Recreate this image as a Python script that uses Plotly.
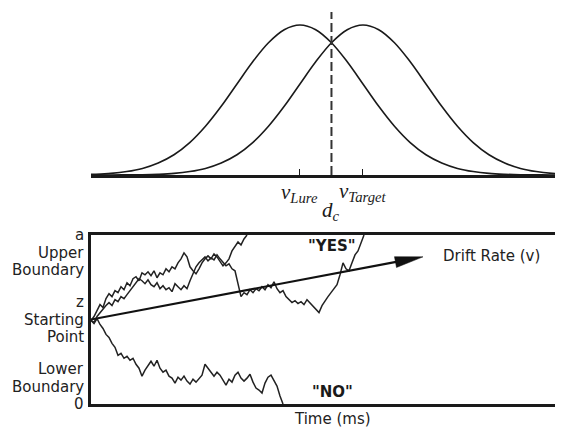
import numpy as np
import plotly.graph_objects as go

# ---------------- data ----------------
# top panel: signal-detection distributions (units of the common SD)
lure_mean = 0.0
target_mean = 1.0
dist_sd = 1.0
criterion = 0.5
# relative density heights, at offsets (in SD) from the mean
profile_offsets = [-4.5, -4.25, -4.0, -3.75, -3.5, -3.25, -3.0, -2.75, -2.5, -2.25, -2.0,
                   -1.75, -1.5, -1.25, -1.0, -0.75, -0.5, -0.25, 0.0, 0.25, 0.5, 0.75,
                   1.0, 1.25, 1.5, 1.75, 2.0, 2.25, 2.5, 2.75, 3.0, 3.25, 3.5, 3.75,
                   4.0, 4.25, 4.5]
profile_heights = [0.000, 0.000, 0.000, 0.001, 0.002, 0.005, 0.011, 0.023, 0.044, 0.080, 0.135,
                   0.216, 0.325, 0.458, 0.607, 0.755, 0.882, 0.969, 1.000, 0.969, 0.882, 0.755,
                   0.607, 0.458, 0.325, 0.216, 0.135, 0.080, 0.044, 0.023, 0.011, 0.005, 0.002, 0.001,
                   0.000, 0.000, 0.000]
dist_labels = ["<i>v</i><sub><i>Lure</i></sub>", "<i>v</i><sub><i>Target</i></sub>"]
criterion_label = "<i>d</i><sub><i>c</i></sub>"

# bottom panel: diffusion process
boundary_a = 1.7
start_z = 0.85
sample_interval = 3  # ms between samples
path_upper_fast = [0.84, 0.88, 0.94, 1.00, 0.97, 1.06, 1.11, 1.08, 1.14, 1.12, 1.18, 1.15, 1.22,
                   1.19, 1.26, 1.28, 1.24, 1.32, 1.30, 1.33, 1.29, 1.34, 1.27, 1.32, 1.30, 1.36,
                   1.33, 1.38, 1.36, 1.42, 1.46, 1.52, 1.48, 1.38, 1.34, 1.31, 1.36, 1.42, 1.46,
                   1.49, 1.46, 1.51, 1.48, 1.44, 1.39, 1.42, 1.46, 1.54, 1.58, 1.63, 1.60, 1.66,
                   1.70]
path_upper_slow = [0.84, 0.82, 0.88, 0.92, 0.95, 0.99, 1.02, 0.99, 1.05, 1.03, 1.08, 1.06, 1.10,
                   1.14, 1.19, 1.23, 1.26, 1.24, 1.21, 1.25, 1.20, 1.18, 1.22, 1.16, 1.19, 1.15,
                   1.17, 1.13, 1.21, 1.18, 1.15, 1.19, 1.16, 1.24, 1.32, 1.38, 1.42, 1.45, 1.48,
                   1.44, 1.47, 1.45, 1.50, 1.46, 1.42, 1.39, 1.41, 1.36, 1.34, 1.22, 1.08, 1.12,
                   1.10, 1.15, 1.12, 1.16, 1.14, 1.18, 1.15, 1.20, 1.17, 1.23, 1.16, 1.12, 1.14,
                   1.08, 1.05, 1.02, 1.04, 1.01, 1.03, 1.00, 1.05, 1.02, 0.98, 0.95, 0.92, 0.99,
                   1.04, 1.08, 1.12, 1.16, 1.20, 1.30, 1.42, 1.36, 1.34, 1.42, 1.50, 1.54, 1.62,
                   1.70]
path_lower = [0.84, 0.81, 0.86, 0.80, 0.76, 0.70, 0.67, 0.61, 0.57, 0.49,
              0.51, 0.46, 0.48, 0.44, 0.46, 0.40, 0.36, 0.28, 0.34, 0.38,
              0.43, 0.38, 0.44, 0.36, 0.32, 0.34, 0.28, 0.26, 0.21, 0.27,
              0.24, 0.28, 0.23, 0.20, 0.25, 0.22, 0.26, 0.29, 0.40, 0.36,
              0.32, 0.28, 0.32, 0.29, 0.24, 0.19, 0.25, 0.22, 0.29, 0.32,
              0.26, 0.23, 0.26, 0.30, 0.22, 0.16, 0.14, 0.11, 0.21, 0.27,
              0.29, 0.24, 0.18, 0.08, 0.00]
drift_time = [0, 332]
drift_evidence = [0.85, 1.48]

# ---------------- layout geometry ----------------
# the page body has an 8px margin, so the figure is drawn 8px in from the window corner
PAGE_PAD = 8
WIN_W, WIN_H = 563, 427
W, H = WIN_W - PAGE_PAD, WIN_H - PAGE_PAD


def fx(px):   # window pixel x -> paper fraction
    return (px - PAGE_PAD) / W


def fy(py):   # window pixel y -> paper fraction
    return (WIN_H - py) / H


INK = "#1a1a1a"
x_dom = [fx(91), 1.0]
top_dom = [fy(175), fy(12)]
bot_dom = [fy(404), fy(235)]
top_range = [-3.317, 4.175]
top_yrange = [0, 1.087]
bot_xrange = [0, 472]

# pixel scale of the bottom panel (for the arrowhead geometry)
px_per_t = (WIN_W - 91) / (bot_xrange[1] - bot_xrange[0])
px_per_e = (404 - 235) / boundary_a

fig = go.Figure()

for mean in (lure_mean, target_mean):
    fig.add_trace(go.Scatter(
        x=[mean + dist_sd * o for o in profile_offsets], y=profile_heights,
        mode="lines", line=dict(color=INK, width=1.6, shape="spline"),
        xaxis="x", yaxis="y", hoverinfo="skip"))

for path in (path_upper_fast, path_upper_slow, path_lower):
    t = np.arange(len(path)) * sample_interval
    fig.add_trace(go.Scatter(
        x=t, y=path, mode="lines", line=dict(color="#222222", width=1.5),
        xaxis="x2", yaxis="y2", hoverinfo="skip"))

# drift-rate arrow: shaft + filled narrow head
dx = (drift_time[1] - drift_time[0]) * px_per_t
dy = (drift_evidence[1] - drift_evidence[0]) * px_per_e
L = np.hypot(dx, dy)
ux, uy = dx / L, dy / L
head_len, head_half = 28.0, 5.5
bx = drift_time[1] - head_len * ux / px_per_t
by = drift_evidence[1] - head_len * uy / px_per_e
nx, ny = -uy, ux
head_t = [drift_time[1], bx + head_half * nx / px_per_t, bx - head_half * nx / px_per_t, drift_time[1]]
head_e = [drift_evidence[1], by + head_half * ny / px_per_e, by - head_half * ny / px_per_e,
          drift_evidence[1]]
fig.add_trace(go.Scatter(
    x=[drift_time[0], bx + 2 * ux / px_per_t], y=[drift_evidence[0], by + 2 * uy / px_per_e],
    mode="lines", line=dict(color="#111111", width=2.2),
    xaxis="x2", yaxis="y2", hoverinfo="skip"))
fig.add_trace(go.Scatter(
    x=head_t, y=head_e, mode="lines", fill="toself", fillcolor="#111111",
    line=dict(color="#111111", width=0.5), xaxis="x2", yaxis="y2", hoverinfo="skip"))

fig.add_shape(type="line", xref="x", yref="y", x0=criterion, x1=criterion,
              y0=0, y1=top_yrange[1], line=dict(color="#333333", width=2, dash="9px,4px"))

ann = []
math_font = dict(family="Liberation Serif", size=21, color=INK)
for mean, lab, ypx in zip((lure_mean, target_mean), dist_labels, (193, 192)):
    ann.append(dict(x=mean, xref="x", y=fy(ypx), yref="paper", text=lab, showarrow=False,
                    font=math_font, xanchor="center", yanchor="middle"))
ann.append(dict(x=criterion, xref="x", y=fy(211), yref="paper", text=criterion_label,
                showarrow=False, font=math_font, xanchor="center", yanchor="middle"))

sans = dict(family="DejaVu Sans", size=15, color="#222222")
left_labels = [("a", boundary_a, 0), ("Upper", boundary_a, -17.5), ("Boundary", boundary_a, -35),
               ("z", start_z, 17.5), ("Starting", start_z, 0), ("Point", start_z, -17.5),
               ("Lower", 0, 35), ("Boundary", 0, 17.5), ("0", 0, 0)]
for txt, yv, ys in left_labels:
    ann.append(dict(x=fx(86), xref="paper", y=yv, yref="y2", yshift=ys, text=txt,
                    showarrow=False, font=sans, xanchor="right", yanchor="middle"))

ann.append(dict(x=350, xref="x2", y=1.49, yref="y2", text="Drift Rate (v)", showarrow=False,
                font=sans, xanchor="left", yanchor="middle"))
bold = dict(family="DejaVu Sans", size=15, color=INK)
ann.append(dict(x=241, xref="x2", y=1.59, yref="y2", text='<b>"YES"</b>', showarrow=False,
                font=bold, xanchor="center", yanchor="middle"))
ann.append(dict(x=241, xref="x2", y=0.12, yref="y2", text='<b>"NO"</b>', showarrow=False,
                font=bold, xanchor="center", yanchor="middle"))
ann.append(dict(x=241, xref="x2", y=fy(419), yref="paper", text="Time (ms)", showarrow=False,
                font=sans, xanchor="center", yanchor="middle"))

fig.update_layout(
    width=W, height=H, margin=dict(l=0, r=0, t=0, b=0),
    paper_bgcolor="white", plot_bgcolor="white", showlegend=False,
    xaxis=dict(domain=x_dom, range=top_range, anchor="y", showline=True, linewidth=2.5,
               linecolor=INK, ticks="inside", tickvals=[lure_mean, target_mean], ticklen=6,
               tickwidth=1.3, tickcolor=INK, showticklabels=False, showgrid=False,
               zeroline=False),
    yaxis=dict(domain=top_dom, range=top_yrange, visible=False, anchor="x"),
    xaxis2=dict(domain=x_dom, range=bot_xrange, anchor="y2", showline=True, mirror=True,
                linewidth=2.5, linecolor=INK, ticks="", showticklabels=False, showgrid=False,
                zeroline=False),
    yaxis2=dict(domain=bot_dom, range=[0, boundary_a], anchor="x2", showline=True,
                linewidth=2.5, linecolor=INK, ticks="", showticklabels=False, showgrid=False,
                zeroline=False),
    annotations=ann,
)

fig.write_html("out.html")
